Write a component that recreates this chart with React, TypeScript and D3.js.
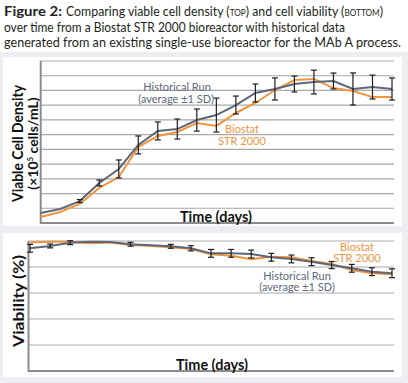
import React from "react";
import * as d3 from "d3";

const days = d3.range(0, 19);

// Top chart: viable cell density (arbitrary units, gridlines every 10)
const vcdHistorical = [6.8, 9.5, 14.9, 27.2, 36.7, 53, 62.5, 63.8, 69.9, 73.3, 80.1, 88.3, 91, 94.4, 95.7, 96.4, 91, 92.3, 91];
const vcdHistoricalSD = [0, 0, 1, 2, 6.1, 6.1, 6.1, 6.8, 7.5, 11.5, 6.1, 6.1, 7.5, 5.4, 8.1, 5.4, 10.9, 8.1, 7.5];
const vcdBiostat = [4.1, 7.5, 12.9, 23.8, 31.2, 51.6, 59.1, 61.8, 67.9, 65.9, 74.7, 81.5, 90.3, 97.1, 97.8, 91.6, 89.6, 85.5, 85.5];

// Bottom chart: viability (%)
const viaHistorical = [94.4, 96.2, 98.7, 99.5, 99.2, 97.5, 96.7, 95.9, 94.4, 90.5, 90.5, 90, 87.5, 86.2, 84.1, 81.5, 79, 76.4, 75.2];
const viaHistoricalSD = [3, 1.5, 1.5, 0, 0, 1.5, 0, 1.5, 2, 3, 3, 3, 3, 3, 3, 2.7, 3, 3, 3.4];
const viaBiostat = [98.9, 99.5, 99.5, 98.2, 98.9, 96.9, 96.2, 95.2, 93.8, 89.8, 88.7, 85.9, 87.9, 87.5, 84.6, 82.3, 77.7, 75.2, 74.4];

const vcdTicks = d3.range(0, 111, 10);
const viaTicks = d3.range(0, 101, 20);

const GRAY = "#5d677a";
const ORANGE = "#f0953d";
const GRID = "#a9a9a9";
const AXIS = "#8c8c8c";
const FONT = "Lato, 'Open Sans', sans-serif";

function Chart(props: {
  hist: number[];
  sd: number[];
  bio: number[];
  xRange: [number, number];
  yDomain: [number, number];
  yRange: [number, number];
  ticks: number[];
  gridRight: number;
  axisX: number;
}) {
  const { hist, sd, bio, xRange, yDomain, yRange, ticks, gridRight, axisX } = props;
  const x = d3.scaleLinear().domain([0, 18]).range(xRange);
  const y = d3.scaleLinear().domain(yDomain).range(yRange);
  const line = d3.line<number>().x((_, i) => x(days[i])).y((d) => y(d));
  return (
    <g>
      {ticks.map((t) => (
        <line key={t} x1={axisX} x2={gridRight} y1={y(t)} y2={y(t)} stroke={t === 0 ? AXIS : GRID} strokeWidth={t === 0 ? 2 : 1.2} />
      ))}
      <line x1={axisX} x2={axisX} y1={y(yDomain[1])} y2={y(0) + 1} stroke={AXIS} strokeWidth={2} />
      <path d={line(bio) || ""} fill="none" stroke={ORANGE} strokeWidth={2} />
      <path d={line(hist) || ""} fill="none" stroke={GRAY} strokeWidth={2} />
      {hist.map((v, i) =>
        sd[i] > 0 ? (
          <g key={i} stroke="#1e1e1e" strokeWidth={1.2}>
            <line x1={x(days[i])} x2={x(days[i])} y1={y(v - sd[i])} y2={y(v + sd[i])} />
            <line x1={x(days[i]) - 3} x2={x(days[i]) + 3} y1={y(v - sd[i])} y2={y(v - sd[i])} />
            <line x1={x(days[i]) - 3} x2={x(days[i]) + 3} y1={y(v + sd[i])} y2={y(v + sd[i])} />
          </g>
        ) : null
      )}
    </g>
  );
}

export default function App() {
  return (
    <svg width={408} height={383} style={{ position: "absolute", left: 0, top: 0 }} fontFamily={FONT}>
      <rect x={0} y={0} width={408} height={383} fill="#ffffff" />
      <rect x={0} y={52} width={408} height={331} fill="#eceef2" />
      <rect x={3} y={57} width={399} height={169} fill="#ffffff" />
      <rect x={3} y={233} width={399} height={144} fill="#ffffff" />

      {/* Title */}
      <g fill="#231f20" fontSize={13.5}>
        <text x={4} y={15.5} fontWeight="bold" textLength={58} lengthAdjust="spacingAndGlyphs">Figure 2:</text>
        <text x={66} y={15.5} textLength={317} lengthAdjust="spacingAndGlyphs">
          Comparing viable cell density (<tspan style={{ fontVariant: "small-caps" }}>top</tspan>) and cell viability (<tspan style={{ fontVariant: "small-caps" }}>bottom</tspan>)
        </text>
        <text x={4} y={31.5} textLength={341} lengthAdjust="spacingAndGlyphs">over time from a Biostat STR 2000 bioreactor with historical data</text>
        <text x={4} y={47} textLength={397} lengthAdjust="spacingAndGlyphs">generated from an existing single-use bioreactor for the MAb A process.</text>
      </g>

      {/* Top chart */}
      <Chart hist={vcdHistorical} sd={vcdHistoricalSD} bio={vcdBiostat} xRange={[40.7, 392]} yDomain={[0, 110]} yRange={[223, 61]} ticks={vcdTicks} gridRight={394} axisX={40.7} />
      <text transform="translate(23,143.5) rotate(-90)" textAnchor="middle" fontWeight="bold" fontSize={14.5} fill="#111" textLength={117} lengthAdjust="spacingAndGlyphs">Viable Cell Density</text>
      <text transform="translate(38,143.5) rotate(-90)" textAnchor="middle" fontWeight="bold" fontSize={14} fill="#111">
        (×10<tspan fontSize={8} dy={-5}>5</tspan><tspan dy={5}> cells/mL)</tspan>
      </text>
      <text x={180} y={222} fontWeight="bold" fontSize={14.5} fill="#111" textLength={72} lengthAdjust="spacingAndGlyphs">Time (days)</text>
      <g fill={GRAY} fontSize={11} textAnchor="middle">
        <text x={177} y={91}>Historical Run</text>
        <text x={176} y={103}>(average ±1 SD)</text>
      </g>
      <g fill={ORANGE} fontSize={11} textAnchor="middle">
        <text x={242} y={133}>Biostat</text>
        <text x={242} y={145}>STR 2000</text>
      </g>

      {/* Bottom chart */}
      <Chart hist={viaHistorical} sd={viaHistoricalSD} bio={viaBiostat} xRange={[30, 392]} yDomain={[0, 100]} yRange={[371, 241]} ticks={viaTicks} gridRight={394} axisX={28.5} />
      <text transform="translate(24,301) rotate(-90)" textAnchor="middle" fontWeight="bold" fontSize={14.5} fill="#111" textLength={92} lengthAdjust="spacingAndGlyphs">Viability (%)</text>
      <text x={176} y={370} fontWeight="bold" fontSize={14.5} fill="#111" textLength={72} lengthAdjust="spacingAndGlyphs">Time (days)</text>
      <g fill={ORANGE} fontSize={11} textAnchor="middle">
        <text x={357} y={251}>Biostat</text>
        <text x={357} y={262}>STR 2000</text>
      </g>
      <g fill={GRAY} fontSize={11} textAnchor="middle">
        <text x={297} y={280}>Historical Run</text>
        <text x={297} y={291}>(average ±1 SD)</text>
      </g>
    </svg>
  );
}
